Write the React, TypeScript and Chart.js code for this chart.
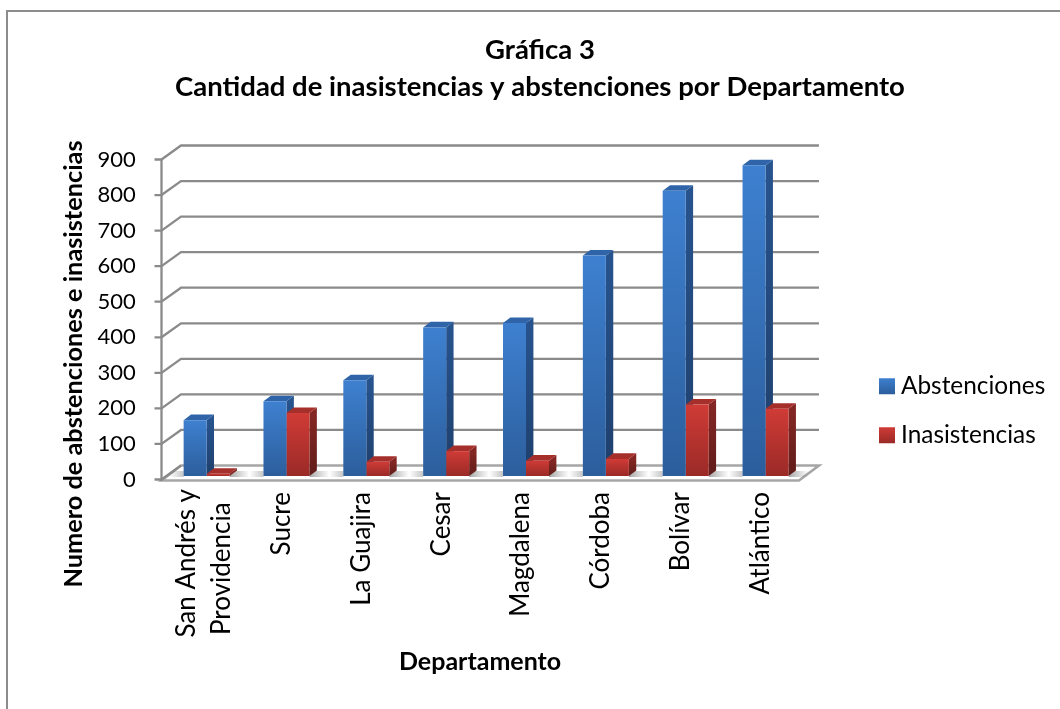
import React, { useEffect, useRef } from "react";
import { Chart, registerables } from "chart.js";

Chart.register(...registerables);

const titleLines = ["Gráfica 3", "Cantidad de inasistencias y abstenciones por Departamento"];
const yTitle = "Numero de abstenciones e inasistencias";
const xTitle = "Departamento";
const categories: (string | string[])[] = [
  ["San Andrés y", "Providencia  "],
  "Sucre",
  "La Guajira",
  "Cesar",
  "Magdalena",
  "Córdoba",
  "Bolívar",
  "Atlántico",
];
const abstenciones = [157, 210, 269, 418, 430, 620, 802, 874];
const inasistencias = [6, 177, 40, 70, 43, 48, 201, 189];

const FONT = "Lato, Carlito, Calibri, sans-serif";
const GRID = "#8a8a8a";

const blue = { top: "#3e80d0", bottom: "#2c5e9c", sideTop: "#27538e", sideBottom: "#1e3f6c", cap: "#2f65a8" };
const red = { top: "#d03b36", bottom: "#9a2a27", sideTop: "#842724", sideBottom: "#5f1c1a", cap: "#a52f2b" };
const palettes = [blue, red];

const DX = 7.4;
const DY = 5.6;

const threeD = {
  id: "threeD",
  afterLayout(chart: any) {
    // legend text starts further left than its share of the layout allows
    chart.legend.left = 860.6;
    chart.legend.right = 1060;
  },
  beforeDraw(chart: any) {
    const { ctx, width, height } = chart;
    ctx.save();
    ctx.fillStyle = "#fff";
    ctx.fillRect(0, 0, width, height);
    ctx.fillStyle = "#8c8c8c";
    ctx.fillRect(6, 10, width - 6, 2);
    ctx.fillRect(6, 10, 2, height - 10);
    ctx.restore();
    // two-line first label is centred on its category, as in the source
    const items = chart.scales.x.getLabelItems(chart.chartArea);
    if (items[0] && !items[0].$moved) {
      items[0].options.translation[0] -= 15;
      items[0].options.translation[1] -= 3;
      items[0].$moved = true;
    }
    // shift only where the axis titles get centred
    const y = chart.scales.y;
    y.$t = y.top;
    y.top += 96;
    const x = chart.scales.x;
    x.$l = x.left; x.$r = x.right;
    x.left -= 6; x.right -= 6;
  },
  afterDraw(chart: any) {
    const y = chart.scales.y;
    y.top = y.$t;
    const x = chart.scales.x;
    x.left = x.$l; x.right = x.$r;
  },
  beforeDatasetsDraw(chart: any) {
    const { ctx, chartArea, scales } = chart;
    const yS = scales.y;
    const frontX = chartArea.left - 5.2;
    const backX = chartArea.left + 14.3;
    const backR = chartArea.right + 13.5;
    const frontR = chartArea.right - 6.5;
    ctx.save();
    ctx.strokeStyle = GRID;
    ctx.lineWidth = 2.3;
    // floor
    const y0 = yS.getPixelForValue(0);
    ctx.beginPath();
    ctx.moveTo(frontX, y0 + 4.5);
    ctx.lineTo(frontR, y0 + 4.5);
    ctx.lineTo(backR, y0 - 10.5);
    ctx.lineTo(backX, y0 - 10.5);
    ctx.closePath();
    ctx.fillStyle = "#fff";
    ctx.fill();
    ctx.strokeStyle = "#a6a6a6";
    ctx.lineWidth = 2.6;
    ctx.stroke();
    ctx.lineWidth = 2.3;
    ctx.strokeStyle = GRID;
    // grid lines on the back wall and their side-wall returns
    yS.ticks.forEach((t: any) => {
      const p = yS.getPixelForValue(t.value);
      ctx.beginPath();
      ctx.moveTo(frontX - 7, p + 3.5);
      ctx.lineTo(frontX, p + 3.5);
      ctx.lineTo(backX, p - 10.5);
      if (t.value !== 0) ctx.lineTo(backR, p - 10.5);
      ctx.stroke();
    });
    ctx.beginPath();
    ctx.moveTo(frontX, yS.getPixelForValue(900) + 3.5);
    ctx.lineTo(frontX, y0 + 5);
    ctx.stroke();
    // soft shadows on the floor, both sides of each pair
    const metas = chart.getSortedVisibleDatasetMetas();
    metas[1].data.forEach((b: any) => {
      const r = b.x + b.width / 2;
      const g = ctx.createLinearGradient(r, 0, r + 20, 0);
      g.addColorStop(0, "rgba(110,110,110,0.6)");
      g.addColorStop(1, "rgba(110,110,110,0)");
      ctx.fillStyle = g;
      ctx.fillRect(r, y0 - 5, 20, 6);
    });
    metas[0].data.forEach((b: any) => {
      const l = b.x - b.width / 2;
      const g = ctx.createLinearGradient(l - 14, 0, l, 0);
      g.addColorStop(0, "rgba(110,110,110,0)");
      g.addColorStop(1, "rgba(110,110,110,0.4)");
      ctx.fillStyle = g;
      ctx.fillRect(l - 14, y0 - 5, 14, 6);
    });
    // depth faces of the bars
    metas.forEach((meta: any, idx: number) => {
      const c = palettes[idx];
      meta.data.forEach((b: any) => {
        const l = b.x - b.width / 2;
        const r = b.x + b.width / 2;
        const side = ctx.createLinearGradient(0, b.y, 0, b.base);
        side.addColorStop(0, c.sideTop);
        side.addColorStop(1, c.sideBottom);
        ctx.fillStyle = side;
        ctx.beginPath();
        ctx.moveTo(r, b.y);
        ctx.lineTo(r + DX, b.y - DY);
        ctx.lineTo(r + DX, b.base - DY);
        ctx.lineTo(r, b.base);
        ctx.closePath();
        ctx.fill();
        ctx.fillStyle = c.cap;
        ctx.beginPath();
        ctx.moveTo(l, b.y);
        ctx.lineTo(l + DX, b.y - DY);
        ctx.lineTo(r + DX, b.y - DY);
        ctx.lineTo(r, b.y);
        ctx.closePath();
        ctx.fill();
      });
    });
    ctx.restore();
  },
};

function faceGradient(ctx: any, idx: number) {
  const chart = ctx.chart;
  const yS = chart.scales.y;
  const v = ctx.parsed ? ctx.parsed.y : undefined;
  if (!yS || v === undefined) return palettes[idx].top;
  const g = chart.ctx.createLinearGradient(0, yS.getPixelForValue(v), 0, yS.getPixelForValue(0));
  g.addColorStop(0, palettes[idx].top);
  g.addColorStop(1, palettes[idx].bottom);
  return g;
}

export default function App() {
  const ref = useRef<HTMLCanvasElement>(null);
  useEffect(() => {
    const chart = new Chart(ref.current!, {
      type: "bar",
      plugins: [threeD],
      data: {
        labels: categories as any,
        datasets: [
          {
            label: "Abstenciones",
            data: abstenciones,
            backgroundColor: (c: any) => faceGradient(c, 0),
            categoryPercentage: 0.576,
            barPercentage: 1,
            clip: false,
          },
          {
            label: "Inasistencias",
            data: inasistencias,
            backgroundColor: (c: any) => faceGradient(c, 1),
            categoryPercentage: 0.576,
            barPercentage: 1,
            clip: false,
          },
        ],
      },
      options: {
        responsive: false,
        animation: false,
        layout: { autoPadding: false, padding: { left: 32, top: 0, right: 12, bottom: 0 } },
        plugins: {
          tooltip: { enabled: false },
          title: {
            display: true,
            text: titleLines,
            color: "#000",
            font: { family: FONT, size: 27.5, weight: "bold", lineHeight: 37 / 27.5 },
            padding: { top: 32, bottom: 50 },
          },
          legend: {
            position: "right",
            title: { display: true, text: " ", color: "#000", font: { size: 12 }, padding: { top: 98, bottom: 0 } },
            labels: {
              color: "#000",
              font: { family: FONT, size: 24.4 },
              boxWidth: 3.6,
              boxHeight: 3.6,
              padding: 24.6,
              generateLabels(chart: any) {
                return chart.data.datasets.map((d: any, i: number) => {
                  const g = chart.ctx.createLinearGradient(0, 378 + i * 49, 0, 394 + i * 49);
                  g.addColorStop(0, palettes[i].top);
                  g.addColorStop(1, palettes[i].bottom);
                  return { text: d.label, fillStyle: g, strokeStyle: g, fontColor: "#000", lineWidth: 12.4, datasetIndex: i, hidden: false };
                });
              },
            },
          },
        },
        scales: {
          x: {
            offset: true,
            grid: { display: false },
            border: { display: false },
            afterFit(s: any) { s.height = 233; },
            ticks: {
              color: "#000",
              font: { family: FONT, size: 26, lineHeight: 35 / 26 },
              minRotation: 90,
              maxRotation: 90,
              autoSkip: false,
              padding: 8,
              labelOffset: -5,
            },
            title: {
              display: true,
              text: xTitle,
              color: "#000",
              font: { family: FONT, size: 25, weight: "bold" },
              padding: { top: 0, bottom: 32 },
            },
          },
          y: {
            min: 0,
            max: 900,
            grid: { display: false },
            border: { display: false },
            afterFit(s: any) { s.width = 134.7; },
            ticks: {
              stepSize: 100,
              color: "#000",
              font: { family: FONT, size: 22 },
              padding: 23,
              labelOffset: 3.5,
            },
            title: {
              display: true,
              text: yTitle,
              color: "#000",
              font: { family: FONT, size: 25.3, weight: "bold" },
              padding: { top: 27, bottom: 0 },
            },
          },
          gap: {
            type: "linear",
            position: "right",
            display: true,
            grid: { display: false },
            border: { display: false },
            ticks: { display: false },
            afterFit(s: any) { s.width = 73.2; },
          },
        },
      } as any,
    });
    return () => chart.destroy();
  }, []);
  return (
    <div style={{ position: "absolute", left: 0, top: 0, width: 1060, height: 709 }}>
      <canvas ref={ref} width={1060} height={709} style={{ display: "block" }} />
    </div>
  );
}
